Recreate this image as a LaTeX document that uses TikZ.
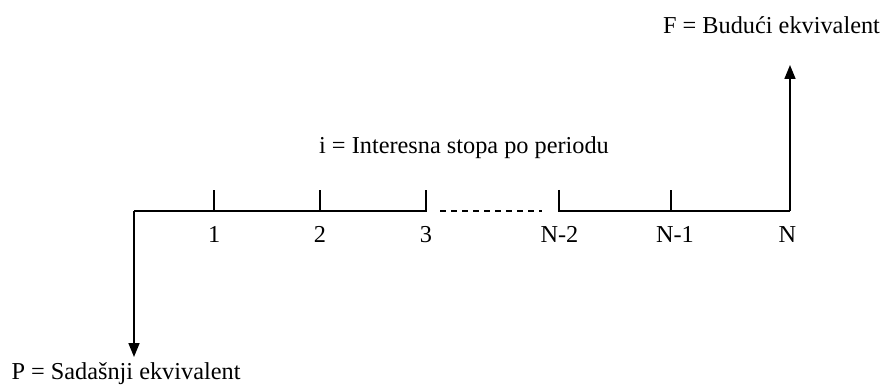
\documentclass[tikz,border=0pt]{standalone}
\usepackage{fontspec}
\setmainfont{Liberation Serif}
\usetikzlibrary{arrows.meta}
\begin{document}
\begin{tikzpicture}[x=1pt,y=-1pt,
  axis/.style={line width=1.7pt},
  flow/.style={line width=1.7pt,-{Triangle[length=14pt,width=11pt]}},
  lbl/.style={anchor=base,inner sep=0pt,font=\fontsize{24.3}{29}\selectfont}]
\useasboundingbox (0,0) rectangle (887,385);
% axis points
\coordinate (s) at (134,211);
\coordinate (a1) at (214.3,211); \coordinate (b1) at (214.3,190);
\coordinate (a2) at (320,211);   \coordinate (b2) at (320,190);
\coordinate (a3) at (426,211);   \coordinate (b3) at (426,190);
\coordinate (d1) at (440,211);   \coordinate (d2) at (542,211);
\coordinate (a4) at (558.7,211); \coordinate (b4) at (558.7,190);
\coordinate (a5) at (670.7,211); \coordinate (b5) at (670.7,190);
\coordinate (a6) at (790,211);
% arrow ends
\coordinate (pend) at (134,357);
\coordinate (fend) at (790,65);
% labels
\node[lbl] (l1) at (214.3,242.7) {1};
\node[lbl] (l2) at (320,242.7) {2};
\node[lbl] (l3) at (426,242.7) {3};
\node[lbl] (l4) at (559.5,242.7) {N-2};
\node[lbl] (l5) at (675,242.7) {N-1};
\node[lbl] (l6) at (787.5,242.7) {N};
\node[lbl] (ilbl) at (464,153.3) {i = Interesna stopa po periodu};
\node[lbl] (flbl) at (771.5,33.3) {F = Budući ekvivalent};
\node[lbl] (plbl) at (126,379) {P = Sadašnji ekvivalent};
% axis
\draw[axis] (s) -- (a3) -- (b3);
\draw[axis] (a1) -- (b1);
\draw[axis] (a2) -- (b2);
\draw[axis,line width=1.2pt,dash pattern=on 6pt off 5pt] (d1) -- (d2);
\draw[axis] (b4) -- (a4) -- (a6);
\draw[axis] (a5) -- (b5);
\draw[flow] (s) -- (pend);
\draw[flow] (a6) -- (fend);
\end{tikzpicture}
\end{document}
